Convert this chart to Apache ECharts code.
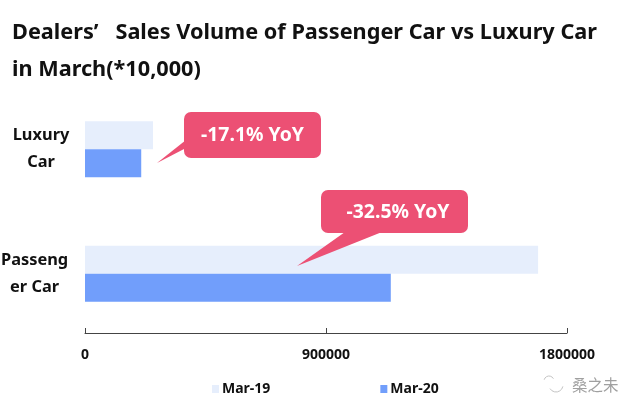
<!DOCTYPE html>
<html><head><meta charset="utf-8">
<style>html,body{margin:0;padding:0;background:#fff}#c{width:640px;height:413px}</style>
<script src="https://cdn.jsdelivr.net/npm/echarts@6/dist/echarts.min.js"></script>
</head><body><div id="c"></div>
<script>
const categories = ['Passeng\ner Car', 'Luxury\nCar'];
const mar19 = [1692000, 254000];
const mar20 = [1142000, 210000];
const seriesNames = ['Mar-19', 'Mar-20'];
const axisTicks = [0, 900000, 1800000];
const titleText = 'Dealers’   Sales Volume of Passenger Car vs Luxury Car\nin March(*10,000)';
const calloutLuxury = '-17.1% YoY';
const calloutPassenger = '-32.5% YoY';
const font = '"Noto Sans","Open Sans",sans-serif';
const red = '#EC5074';
const chart = echarts.init(document.getElementById('c'), null, {renderer:'canvas'});
chart.setOption({
  animation:false,
  backgroundColor:'#fff',
  title:{text:titleText,left:7,top:9,textStyle:{fontFamily:font,fontSize:21.7,fontWeight:'bold',color:'#111',lineHeight:37}},
  legend:{left:207,top:377,itemWidth:7,itemHeight:8,itemGap:110,icon:'rect',
    textStyle:{fontFamily:font,fontSize:14,fontWeight:'bold',color:'#111',padding:[0,0,0,-2]},
    data:seriesNames},
  grid:{left:85,right:73,top:87,bottom:77,outerBoundsMode:'none'},
  xAxis:{type:'value',min:axisTicks[0],max:axisTicks[2],interval:axisTicks[1],offset:-3,
    axisLine:{show:true,lineStyle:{color:'#444',width:1}},
    axisTick:{show:true,inside:true,length:5,lineStyle:{color:'#444'}},
    splitLine:{show:false},
    axisLabel:{margin:15,fontFamily:font,fontSize:14,fontWeight:'bold',color:'#111',
      formatter:function(v){return String(v);},
      alignMinLabel:'center',alignMaxLabel:'center'}},
  yAxis:{type:'category',data:categories,
    axisLine:{show:false},axisTick:{show:false},
    axisLabel:{align:'center',margin:44,fontFamily:font,fontSize:16.4,fontWeight:'bold',color:'#111',lineHeight:27,
      formatter:function(v){return v===categories[0]?v.split('\n').map(function(s){return s+'\u00a0\u00a0\u00a0';}).join('\n'):v;}}},
  series:[
    {name:seriesNames[0],type:'bar',data:mar19,barWidth:28,barGap:'0%',itemStyle:{color:'#E6EEFC'}},
    {name:seriesNames[1],type:'bar',data:mar20,barWidth:28,itemStyle:{color:'#719EFB'}}
  ],
  graphic:[
    {type:'polygon',z:100,shape:{points:[[186,140],[186,148],[157,163]]},style:{fill:red}},
    {type:'rect',z:100,shape:{x:184,y:112,width:137,height:46,r:7},style:{fill:red}},
    {type:'text',z:101,style:{x:252.5,y:135,text:calloutLuxury,fill:'#fff',align:'center',verticalAlign:'middle',font:'bold 19.4px '+font}},
    {type:'polygon',z:100,shape:{points:[[345,232],[382,232],[297,266]]},style:{fill:red}},
    {type:'rect',z:100,shape:{x:321,y:190,width:147,height:43,r:7},style:{fill:red}},
    {type:'text',z:101,style:{x:398,y:212,text:calloutPassenger,fill:'#fff',align:'center',verticalAlign:'middle',font:'bold 19.4px '+font}},
    {type:'arc',z:100,shape:{cx:556,cy:385,r:7,startAngle:0.2,endAngle:2.6},style:{fill:'none',stroke:'#c4c4c4',lineWidth:1}},
    {type:'arc',z:100,shape:{cx:549,cy:381,r:5,startAngle:3.4,endAngle:5.8},style:{fill:'none',stroke:'#c4c4c4',lineWidth:1}},
    {type:'text',z:100,style:{x:572,y:385,text:'桑之未',fill:'#a0a0a0',align:'left',verticalAlign:'middle',font:'15.5px "Noto Sans CJK SC"'}}
  ]
});
</script></body></html>
